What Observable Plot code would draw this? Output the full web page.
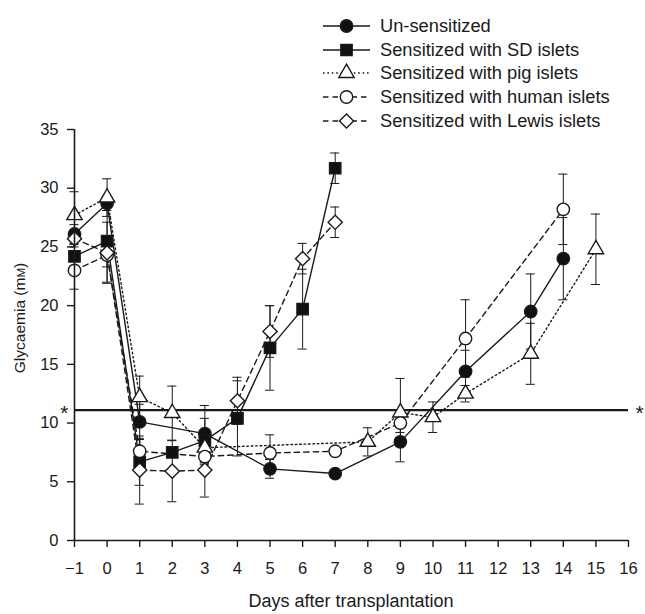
<!DOCTYPE html>
<html><head><meta charset="utf-8">
<script src="https://cdn.jsdelivr.net/npm/d3@7"></script>
<script src="https://cdn.jsdelivr.net/npm/@observablehq/plot@0.6"></script>
<style>
body{margin:0;background:#fff;font-family:"Liberation Sans",Arial,Helvetica,sans-serif;}
#wrap{position:relative;width:645px;height:614px;}
#legend{position:absolute;left:323px;top:14px;}
.row{display:flex;align-items:center;height:23.7px;}
.row svg{display:block}
.row span{font-size:18.3px;margin-left:9px;color:#1a1a1a;white-space:nowrap}
</style></head>
<body><div id="wrap"><div id="chart"></div><div id="legend"></div></div>
<script>
// ---- data ----
const seriesNames = ["Un-sensitized","Sensitized with SD islets","Sensitized with pig islets","Sensitized with human islets","Sensitized with Lewis islets"];

const unDays = [-1,0,1,3,5,7,9,11,13,14];
const unMean = [26.1,28.7,10.1,9.1,6.1,5.7,8.4,14.4,19.5,24.0];
const unErr  = [0.8,0.6,1.5,2.4,0.8,0.2,1.7,1.8,3.2,3.5];

const sdDays = [-1,0,1,2,3,4,5,6,7];
const sdMean = [24.2,25.5,6.7,7.5,8.5,10.4,16.4,19.7,31.7];
const sdErr  = [1.0,3.5,2.0,0.3,1.9,3.2,3.6,3.4,1.3];

const pigDays = [-1,0,1,2,3,8,9,10,11,13,15];
const pigMean = [27.7,29.2,12.2,10.85,7.9,8.4,10.9,10.5,12.5,15.9,24.8];
const pigErr  = [2.0,1.6,1.8,2.3,0.6,1.2,2.9,1.3,0.7,2.6,3.0];

const humDays = [-1,0,1,3,5,7,9,11,14];
const humMean = [23.0,24.3,7.6,7.15,7.45,7.6,10.0,17.2,28.2];
const humErr  = [1.6,1.0,1.0,0.7,1.55,0.3,0.8,3.3,3.0];

const lewDays = [-1,0,1,2,3,4,5,6,7];
const lewMean = [25.7,24.5,6.0,5.9,6.0,11.9,17.8,24.0,27.1];
const lewErr  = [0.7,2.6,2.9,2.6,2.3,2.0,2.2,1.3,1.3];

const threshold = 11.1;
const xTicks = [-1,0,1,2,3,4,5,6,7,8,9,10,11,12,13,14,15,16];
const yTicks = [0,5,10,15,20,25,30,35];
const xTitle = "Days after transplantation";
const yTitle = "Glycaemia";
const yUnitLower = "m";
const yUnitUpper = "M";

// ---- styles ----
const styles = [
  {symbol:"circle",   d3sym:d3.symbolCircle,   r:6.2, fill:"#111",  dash:null},
  {symbol:"square",   d3sym:d3.symbolSquare,   r:6.4, fill:"#111",  dash:null},
  {symbol:"triangle", d3sym:d3.symbolTriangle, r:5.7, fill:"white", dash:"1.6,2.8"},
  {symbol:"circle",   d3sym:d3.symbolCircle,   r:6.2, fill:"white", dash:"5.5,4"},
  {symbol:"diamond2", d3sym:d3.symbolDiamond2, r:6.4, fill:"white", dash:"5.5,4"}
];

const raw = [[unDays,unMean,unErr],[sdDays,sdMean,sdErr],[pigDays,pigMean,pigErr],[humDays,humMean,humErr],[lewDays,lewMean,lewErr]];
const series = raw.map(([d,m,e],k) => d.map((x,i) => ({series:seriesNames[k], x, y:m[i], lo:m[i]-e[i], hi:m[i]+e[i]})));
const allRows = series.flat();

const capW = 0.14;
const ink = "#1a1a1a";

const marks = [
  Plot.ruleY([threshold], {stroke:ink, strokeWidth:2.4}),
  Plot.ruleX(allRows, {x:"x", y1:"lo", y2:"hi", stroke:ink, strokeWidth:1}),
  Plot.ruleY(allRows, {y:"lo", x1:d=>d.x-capW, x2:d=>d.x+capW, stroke:ink, strokeWidth:1}),
  Plot.ruleY(allRows, {y:"hi", x1:d=>d.x-capW, x2:d=>d.x+capW, stroke:ink, strokeWidth:1}),
];
series.forEach((rows,k) => {
  marks.push(Plot.line(rows, {x:"x", y:"y", stroke:ink, strokeWidth:1.4, strokeDasharray:styles[k].dash}));
});
series.forEach((rows,k) => {
  const s = styles[k];
  marks.push(Plot.dot(rows, {x:"x", y:"y", symbol:()=>s.symbol, r:s.r, fill:s.fill, stroke:ink, strokeWidth:1.4}));
});
marks.push(
  Plot.ruleX([-1], {stroke:ink, strokeWidth:1.6}),
  Plot.ruleY([0], {stroke:ink, strokeWidth:1.6}),
  Plot.axisX({ticks:xTicks, tickSize:7, tickPadding:15, label:null, fontSize:16.5, strokeWidth:1.4}),
  Plot.axisY({ticks:yTicks, tickSize:7, tickPadding:9, label:null, fontSize:16.5, strokeWidth:1.4}),
  Plot.text([threshold], {y:d=>d, x:-1, text:()=>"*", textAnchor:"end", dx:-6, dy:3, fontSize:21, fill:ink}),
  Plot.text([threshold], {y:d=>d, x:16, text:()=>"*", textAnchor:"start", dx:7, dy:3, fontSize:21, fill:ink})
);

const plot = Plot.plot({
  width:645, height:614,
  marginTop:129, marginBottom:74, marginLeft:74, marginRight:17,
  style:{fontFamily:"'Liberation Sans', Arial, Helvetica, sans-serif", fontSize:"16px", color:ink, background:"white", overflow:"visible"},
  x:{domain:[-1,16]},
  y:{domain:[0,35]},
  symbol:{type:"identity"},
  marks
});
document.getElementById("chart").appendChild(plot);

// axis titles
const svg = d3.select(plot);
svg.append("text")
  .attr("x", 351).attr("y", 607)
  .attr("text-anchor","middle")
  .attr("font-size", 18).attr("fill", ink)
  .text(xTitle);
const yt = svg.append("text")
  .attr("transform","translate(25,318) rotate(-90)")
  .attr("text-anchor","middle")
  .attr("font-size", 15.5).attr("fill", ink);
yt.append("tspan").text(yTitle + " (" + yUnitLower);
yt.append("tspan").attr("font-size", 11.5).text(yUnitUpper);
yt.append("tspan").text(")");

// legend
const leg = d3.select("#legend");
seriesNames.forEach((name,k) => {
  const s = styles[k];
  const row = leg.append("div").attr("class","row");
  const sv = row.append("svg").attr("width",48).attr("height",20);
  sv.append("line").attr("x1",0).attr("x2",47).attr("y1",10).attr("y2",10)
    .attr("stroke",ink).attr("stroke-width",1.4).attr("stroke-dasharray",s.dash);
  sv.append("path").attr("transform","translate(23.5,10)")
    .attr("d", d3.symbol(s.d3sym, s.r*s.r*Math.PI)())
    .attr("fill", s.fill).attr("stroke", ink).attr("stroke-width",1.4);
  row.append("span").text(name);
});
</script>
</body></html>
